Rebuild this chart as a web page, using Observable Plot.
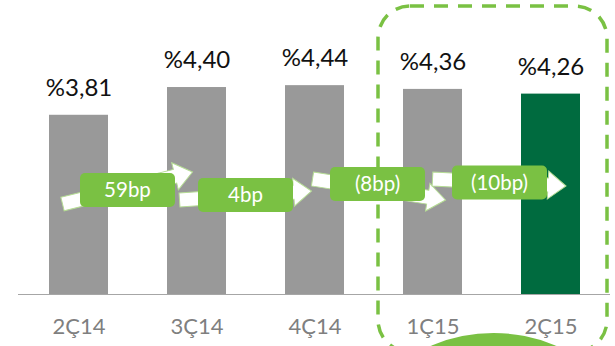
<!DOCTYPE html>
<html>
<head>
<meta charset="utf-8">
<script src="https://cdn.jsdelivr.net/npm/d3@7"></script>
<script src="https://cdn.jsdelivr.net/npm/@observablehq/plot@0.6"></script>
<style>
  html, body { margin: 0; padding: 0; background: #fff; }
  svg { display: block; }
</style>
</head>
<body>
<div id="chart"></div>
<script>
const categories = ["2Ç14", "3Ç14", "4Ç14", "1Ç15", "2Ç15"];
const values = [3.81, 4.40, 4.44, 4.36, 4.26];
const valueLabels = ["%3,81", "%4,40", "%4,44", "%4,36", "%4,26"];
const changeLabels = ["59bp", "4bp", "(8bp)", "(10bp)"];
const highlighted = ["2Ç15"];
const framed = ["1Ç15", "2Ç15"];

const data = categories.map((c, i) => ({cat: c, value: values[i], label: valueLabels[i], hl: highlighted.includes(c)}));

const GREEN = "#7ac143";
const DARK = "#006b3f";
const GRAY = "#999999";

function center(x, v) { return x(v) + (x.bandwidth ? x.bandwidth() / 2 : 0); }

function frameMark(index, scales) {
  const x = scales.x;
  const g = d3.create("svg:g");
  const bw = x.bandwidth();
  const x0 = x(framed[0]) - 25;
  const x1 = x(framed[framed.length - 1]) + bw + 27;
  g.append("rect")
    .attr("x", x0).attr("y", 6)
    .attr("width", x1 - x0).attr("height", 346)
    .attr("rx", 32).attr("ry", 32)
    .attr("fill", "none")
    .attr("stroke", GREEN)
    .attr("stroke-width", 3.5)
    .attr("stroke-dasharray", "14,10");
  return g.node();
}

function circleMark(index, scales) {
  const x = scales.x;
  const cx = (center(x, framed[0]) + center(x, framed[1])) / 2 + 2;
  const g = d3.create("svg:g");
  g.append("circle").attr("cx", cx).attr("cy", 493).attr("r", 160).attr("fill", GREEN);
  return g.node();
}

function changeMark(index, scales) {
  const x = scales.x;
  const g = d3.create("svg:g");
  const dxs = [-10, -10, 4, 8];
  const ys = [190, 195, 184, 182.5];
  const arrows = [
    [[-65, 14], [65, -18]],
    [[-66, 5], [66, -4]],
    [[-65, -5], [68, 16]],
    [[-67, -3.5], [66.5, 3.5]]
  ];
  changeLabels.forEach((lab, i) => {
    const cx = (center(x, categories[i]) + center(x, categories[i + 1])) / 2 + dxs[i];
    const cy = ys[i];
    const [t, h] = arrows[i];
    const tx = cx + t[0], ty = cy + t[1], hx = cx + h[0], hy = cy + h[1];
    const len = Math.hypot(hx - tx, hy - ty);
    const ang = Math.atan2(hy - ty, hx - tx) * 180 / Math.PI;
    const sw = 7, hw = 14, hl = 18;
    const pts = [[0, -sw], [len - hl, -sw], [len - hl, -hw], [len, 0], [len - hl, hw], [len - hl, sw], [0, sw]];
    g.append("polygon")
      .attr("points", pts.map(p => p.join(",")).join(" "))
      .attr("transform", `translate(${tx},${ty}) rotate(${ang})`)
      .attr("fill", "#fff")
      .attr("stroke", "#b5dc94")
      .attr("stroke-width", 1);
    g.append("rect")
      .attr("x", cx - 47.5).attr("y", cy - 17)
      .attr("width", 95).attr("height", 34)
      .attr("rx", 5)
      .attr("fill", GREEN);
    g.append("text")
      .attr("x", cx).attr("y", cy)
      .attr("dy", "0.35em")
      .attr("text-anchor", "middle")
      .attr("fill", "#fff")
      .attr("font-family", "Lato, sans-serif")
      .attr("font-size", 20.5)
      .text(lab);
  });
  return g.node();
}

const chart = Plot.plot({
  width: 615,
  height: 346,
  marginTop: 0,
  marginBottom: 52,
  marginLeft: 18,
  marginRight: 5,
  style: {fontFamily: "Lato, sans-serif", background: "#fff"},
  x: {domain: categories, paddingInner: 0.5, paddingOuter: 0, insetLeft: 29, insetRight: 29, axis: null},
  y: {domain: [0, 6.25], axis: null},
  marks: [
    Plot.barY(data, {x: "cat", y: "value", fill: d => d.hl ? DARK : GRAY}),
    Plot.ruleY([0], {stroke: "#a6a6a6", strokeWidth: 1.2}),
    frameMark,
    changeMark,
    Plot.text(data, {x: "cat", y: "value", text: "label", dy: -27, fontSize: 24, fill: "#111"}),
    circleMark,
    Plot.text(data, {x: "cat", y: 0, text: "cat", dy: 32, fontSize: 22, fill: "#7f7f7f"})
  ]
});
document.getElementById("chart").appendChild(chart);
</script>
</body>
</html>
